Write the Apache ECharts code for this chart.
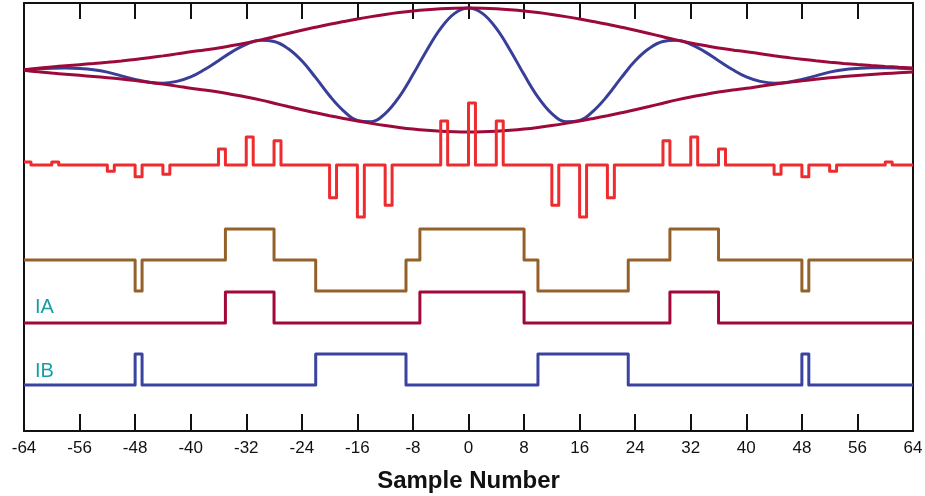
<!DOCTYPE html>
<html>
<head>
<meta charset="utf-8">
<script src="https://cdn.jsdelivr.net/npm/echarts@6/dist/echarts.min.js"></script>
<style>
html,body{margin:0;padding:0;background:#fff;}
#chart{width:925px;height:496px;}
</style>
</head>
<body>
<div id="chart"></div>
<script>
// ---- data ----
const xMin = -64, xMax = 64, xStep = 8;
const axisTitle = 'Sample Number';

// continuous waveform sampled every 2 samples from -64 to 64 (normalized, peak = 1)
const waveSamples = [-64,-62,-60,-58,-56,-54,-52,-50,-48,-46,-44,-42,-40,-38,-36,-34,-32,-30,-28,-26,-24,-22,-20,-18,-16,-14,-12,-10,-8,-6,-4,-2,0,2,4,6,8,10,12,14,16,18,20,22,24,26,28,30,32,34,36,38,40,42,44,46,48,50,52,54,56,58,60,62,64];
const waveValues = [.005,.020,.030,.032,.025,.005,-.034,-.094,-.153,-.198,-.213,-.184,-.112,.008,.151,.297,.415,.478,.459,.346,.148,-.124,-.416,-.658,-.813,-.833,-.703,-.436,-.074,.320,.671,.913,1.000,.913,.671,.320,-.074,-.436,-.703,-.833,-.813,-.658,-.416,-.124,.148,.346,.459,.478,.415,.297,.151,.008,-.112,-.184,-.213,-.198,-.153,-.094,-.034,.005,.025,.035,.035,.030,.020];
const envelopeValues = [.005,.030,.050,.068,.086,.104,.124,.146,.170,.198,.228,.260,.294,.324,.356,.395,.436,.482,.535,.590,.642,.690,.737,.781,.823,.861,.896,.927,.953,.973,.988,.997,1.000,.997,.988,.973,.953,.927,.896,.861,.823,.781,.737,.690,.642,.590,.535,.482,.436,.395,.356,.324,.296,.262,.230,.200,.172,.148,.126,.106,.088,.072,.058,.045,.033];

// sparse sampled signal (value held for one sample)
const pulseSamples = [-64,-60,-52,-48,-44,-36,-32,-28,-20,-16,-12,-4,0,4,12,16,20,28,32,36,44,48,52,60];
const pulseValues  = [.05,.05,-.10,-.19,-.15,.26,.45,.39,-.53,-.84,-.65,.71,1.0,.71,-.65,-.84,-.53,.39,.45,.26,-.15,-.19,-.10,.05];

// three-level signal: change points and level from that sample on
const triSamples = [-64,-48,-47,-35,-28,-22,-9,-7,8,10,23,29,36,48,49,64];
const triLevels  = [0,-1,0,1,0,-1,0,1,0,-1,0,1,0,-1,0,0];

// IA and IB binary signals
const iaSamples = [-64,-35,-28,-7,8,29,36,64];
const iaLevels  = [0,1,0,1,0,1,0,0];
const ibSamples = [-64,-48,-47,-22,-9,10,23,48,49,64];
const ibLevels  = [0,1,0,1,0,1,0,1,0,0];

const traceLabels = ['IA', 'IB'];

// ---- layout (vertical placement of each trace, in plot pixels from bottom) ----
const plotHeight = 428;
const lay = {
  wave:  {base: 361, scale: 62},
  pulse: {base: 266, scale: 62},
  tri:   {base: 171, scale: 31},
  ia:    {base: 108, scale: 31},
  ib:    {base: 46, scale: 31}
};
const colors = {
  wave: '#383f98', env: '#9c0a3c', pulse: '#ee2b2e', tri: '#95612a',
  ia: '#a20838', ib: '#3a44a0', label: '#179ea5'
};

function place(xs, vs, l){ return xs.map((x,i)=>[x, l.base + l.scale*vs[i]]); }

// full per-sample list for the sparse signal
const pulseMap = {};
pulseSamples.forEach((n,i)=>{ pulseMap[n] = pulseValues[i]; });
const pulseAll = [], pulseAllV = [];
for (let n = xMin; n <= xMax; n++) { pulseAll.push(n); pulseAllV.push(pulseMap[n] || 0); }

const chart = echarts.init(document.getElementById('chart'), null, {renderer:'canvas'});
const font = 'Liberation Sans, Arial, Helvetica, sans-serif';
const frame = {show:true, onZero:false, lineStyle:{color:'#111', width:2}};

const option = {
  animation: false,
  backgroundColor: '#fff',
  grid: {left: 24, right: 12, top: 3, bottom: 65, containLabel:false, outerBoundsMode:'none'},
  xAxis: [{
    type:'value', min:xMin, max:xMax, interval:xStep, position:'bottom',
    axisLine: frame,
    axisTick: {show:true, inside:true, length:17, lineStyle:{color:'#111', width:2}},
    axisLabel: {fontSize:17, color:'#111', fontFamily:font, margin:9},
    splitLine: {show:false},
    name: axisTitle, nameLocation:'middle', nameGap:38,
    nameTextStyle: {fontSize:24, fontWeight:'bold', color:'#111', fontFamily:font}
  },{
    type:'value', min:xMin, max:xMax, interval:xStep, position:'top',
    axisLine: frame,
    axisTick: {show:true, inside:true, length:16, lineStyle:{color:'#111', width:2}},
    axisLabel: {show:false}, splitLine: {show:false}
  }],
  yAxis: [{
    type:'value', min:0, max:plotHeight, position:'left',
    axisLine: frame, axisTick:{show:false}, axisLabel:{show:false}, splitLine:{show:false}
  },{
    type:'value', min:0, max:plotHeight, position:'right',
    axisLine: frame, axisTick:{show:false}, axisLabel:{show:false}, splitLine:{show:false}
  }],
  series: [
    {type:'line', name:'wave', data: place(waveSamples, waveValues, lay.wave), smooth:0.4, symbol:'none',
     lineStyle:{color:colors.wave, width:3}},
    {type:'line', name:'envUpper', data: place(waveSamples, envelopeValues, lay.wave), smooth:0.4, symbol:'none',
     lineStyle:{color:colors.env, width:3}},
    {type:'line', name:'envLower', data: place(waveSamples, envelopeValues.map(v=>-v), lay.wave), smooth:0.4, symbol:'none',
     lineStyle:{color:colors.env, width:3}},
    {type:'line', name:'pulse', data: place(pulseAll, pulseAllV, lay.pulse), step:'end', symbol:'none',
     lineStyle:{color:colors.pulse, width:3, join:'round'}},
    {type:'line', name:'tri', data: place(triSamples, triLevels, lay.tri), step:'end', symbol:'none',
     lineStyle:{color:colors.tri, width:3, join:'round'}},
    {type:'line', name:'IA', data: place(iaSamples, iaLevels, lay.ia), step:'end', symbol:'none',
     lineStyle:{color:colors.ia, width:3, join:'round'}},
    {type:'line', name:'IB', data: place(ibSamples, ibLevels, lay.ib), step:'end', symbol:'none',
     lineStyle:{color:colors.ib, width:3, join:'round'}}
  ],
  graphic: [
    {type:'text', left:35, top:297, style:{text:traceLabels[0], fill:colors.label, fontSize:20, fontFamily:font}},
    {type:'text', left:35, top:361, style:{text:traceLabels[1], fill:colors.label, fontSize:20, fontFamily:font}}
  ]
};
chart.setOption(option);
</script>
</body>
</html>
